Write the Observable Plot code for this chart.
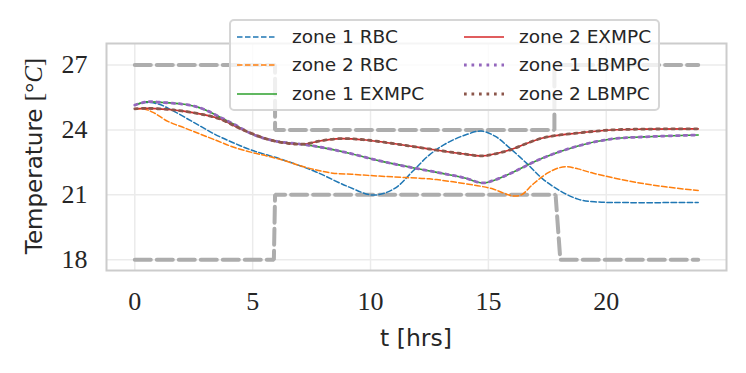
<!DOCTYPE html>
<html><head><meta charset="utf-8">
<script src="https://cdn.jsdelivr.net/npm/d3@7"></script>
<script src="https://cdn.jsdelivr.net/npm/@observablehq/plot@0.6"></script>
<style>
body{margin:0;background:#fff;}
#wrap{position:relative;width:746px;height:373px;}
</style></head><body><div id="wrap"></div>
<script>
const xTicks=[0,5,10,15,20];
const yTicks=[18,21,24,27];

// setpoint bounds
const tUpper=[0,5.95,5.95,17.8,17.8,23.9];
const upperBound=[27,27,24,24,27,27];
const tLower=[0,5.9,5.95,17.85,18.05,23.9];
const lowerBound=[18,18,21,21,18,18];

// zone 1 RBC
const tZ1RBC=[0,0.4,1.0,1.6,2.5,3.4,4.2,5.0,6.2,7.6,9.0,10.0,10.5,11.1,11.8,12.5,13.25,14.1,14.7,15.3,15.9,16.65,17.3,18.05,18.8,19.5,21,23.9];
const z1RBC=[25.15,25.27,25.2,24.9,24.35,23.8,23.4,23.05,22.65,22.1,21.4,21.0,21.05,21.35,22.1,22.85,23.4,23.8,23.95,23.7,23.17,22.43,21.74,21.18,20.8,20.68,20.64,20.65];

// zone 2 RBC
const tZ2RBC=[0,0.4,0.8,1.4,2.1,2.8,3.5,4.2,5.0,5.6,6.3,7.0,7.7,8.4,9.2,9.9,10.6,11.5,12.5,13.5,14.66,15.2,15.6,16.05,16.4,16.9,17.5,18.0,18.35,18.8,19.45,20.9,22.3,23.9];
const z2RBC=[24.98,24.97,24.8,24.4,24.1,23.8,23.5,23.2,22.95,22.8,22.6,22.35,22.15,22.0,21.95,21.9,21.85,21.8,21.74,21.6,21.4,21.27,21.1,20.95,21.0,21.5,22.0,22.25,22.3,22.2,22.0,21.65,21.4,21.2];

// zone 1 EXMPC / LBMPC
const tZ1MPC=[0,0.5,1.2,2.0,2.6,3.1,3.6,4.2,5.0,5.9,7.0,7.8,9.0,10.4,11.8,13.25,14.0,14.75,15.3,15.9,17.3,18.8,20.2,21.6,23.9];
const z1EXMPC=[25.15,25.3,25.27,25.2,25.08,24.88,24.6,24.27,23.8,23.5,23.35,23.22,22.95,22.57,22.25,21.95,21.78,21.55,21.7,21.97,22.7,23.26,23.58,23.68,23.77];
const z1LBMPC=[25.15,25.3,25.27,25.2,25.08,24.88,24.6,24.27,23.8,23.5,23.35,23.22,22.95,22.57,22.25,21.95,21.78,21.55,21.7,21.97,22.7,23.26,23.58,23.68,23.77];

// zone 2 EXMPC / LBMPC
const tZ2MPC=[0,0.5,1.4,2.0,3.5,4.5,5.6,6.5,7.2,7.9,8.7,9.7,11.1,12.5,13.9,14.75,15.3,15.9,17.3,18.8,20.2,21.6,23.9];
const z2EXMPC=[24.98,25.0,24.95,24.88,24.55,24.05,23.58,23.38,23.35,23.5,23.6,23.55,23.35,23.12,22.9,22.8,22.9,23.07,23.63,23.86,24.0,24.04,24.05];
const z2LBMPC=[24.98,25.0,24.95,24.88,24.55,24.05,23.58,23.38,23.35,23.5,23.6,23.55,23.35,23.12,22.9,22.8,22.9,23.07,23.63,23.86,24.0,24.04,24.05];

const seriesNames=["zone 1 RBC","zone 2 RBC","zone 1 EXMPC","zone 2 EXMPC","zone 1 LBMPC","zone 2 LBMPC"];
const seriesColors=["#1f77b4","#ff7f0e","#2ca02c","#d62728","#9467bd","#8c564b"];

const toRows=(ts,vs)=>ts.map((t,i)=>({t,T:vs[i]}));
const styles=[
  {strokeWidth:1.5,strokeDasharray:"5.5,2.5"},
  {strokeWidth:1.5,strokeDasharray:"5.5,2.5"},
  {strokeWidth:1.6},
  {strokeWidth:1.6},
  {strokeWidth:2.8,strokeDasharray:"2.7,4.8"},
  {strokeWidth:2.8,strokeDasharray:"2.7,4.8"}
];
const seriesData=[
  toRows(tZ1RBC,z1RBC),toRows(tZ2RBC,z2RBC),
  toRows(tZ1MPC,z1EXMPC),toRows(tZ2MPC,z2EXMPC),
  toRows(tZ1MPC,z1LBMPC),toRows(tZ2MPC,z2LBMPC)
];

const boundStyle={x:"t",y:"T",stroke:"#adadad",strokeWidth:4,strokeDasharray:"16,6",strokeLinejoin:"miter"};

const plot=Plot.plot({
  width:746,height:373,
  marginLeft:106,marginRight:20,marginTop:43,marginBottom:103,
  x:{domain:[-1.2,25.1]},
  y:{domain:[17.5,28]},
  style:{background:"white"},
  marks:[
    Plot.gridX(xTicks,{stroke:"#ebebeb",strokeOpacity:1,strokeWidth:1.5}),
    Plot.gridY(yTicks,{stroke:"#ebebeb",strokeOpacity:1,strokeWidth:1.5}),
    Plot.frame({stroke:"#cccccc",strokeWidth:2}),
    Plot.axisX(xTicks,{tickSize:0,tickPadding:21,fontSize:26,fontFamily:"Liberation Serif",label:null,color:"#262626"}),
    Plot.axisY(yTicks,{tickSize:0,tickPadding:19,fontSize:26,fontFamily:"Liberation Serif",label:null,color:"#262626"}),
    Plot.line(toRows(tUpper,upperBound),boundStyle),
    Plot.line(toRows(tLower,lowerBound),boundStyle),
    ...seriesData.map((d,i)=>Plot.line(d,{x:"t",y:"T",stroke:seriesColors[i],curve:"catmull-rom",...styles[i]}))
  ]
});
document.getElementById("wrap").appendChild(plot);

const svg=d3.select(plot);
svg.append("text").attr("x",416).attr("y",346).attr("text-anchor","middle")
  .attr("font-family","DejaVu Sans").attr("font-size",23.5).attr("fill","#262626").text("t [hrs]");
const yl=svg.append("text").attr("transform","translate(42,156) rotate(-90)").attr("text-anchor","middle")
  .attr("font-family","DejaVu Sans").attr("font-size",23).attr("fill","#262626");
yl.append("tspan").text("Temperature ");
yl.append("tspan").attr("font-family","Liberation Serif").attr("font-size",25).text("[°");
yl.append("tspan").attr("font-family","Liberation Serif").attr("font-style","italic").attr("font-size",25).text("C");
yl.append("tspan").attr("font-family","Liberation Serif").attr("font-size",25).text("]");

// legend overlay
const leg=d3.select("#wrap").append("svg").attr("width",434).attr("height",95)
  .style("position","absolute").style("left","228px").style("top","18px");
leg.append("rect").attr("x",2).attr("y",2).attr("width",429).attr("height",90).attr("rx",4)
  .attr("fill","white").attr("fill-opacity",0.8).attr("stroke","#d6d6d6").attr("stroke-width",2);
const order=[0,1,2,3,4,5];
const colX=[9,236], textX=[64,291], rowY=[19,47,76];
order.forEach((k,j)=>{
  const c=Math.floor(j/3), r=j%3;
  const st=styles[k];
  leg.append("line").attr("x1",colX[c]).attr("x2",colX[c]+40).attr("y1",rowY[r]).attr("y2",rowY[r])
    .attr("stroke",seriesColors[k]).attr("stroke-width",st.strokeWidth)
    .attr("stroke-dasharray",st.strokeDasharray||null);
  leg.append("text").attr("x",textX[c]).attr("y",rowY[r]).attr("dy","0.35em")
    .attr("font-family","DejaVu Sans").attr("font-size",18.5).attr("fill","#262626").text(seriesNames[k]);
});
</script></body></html>
